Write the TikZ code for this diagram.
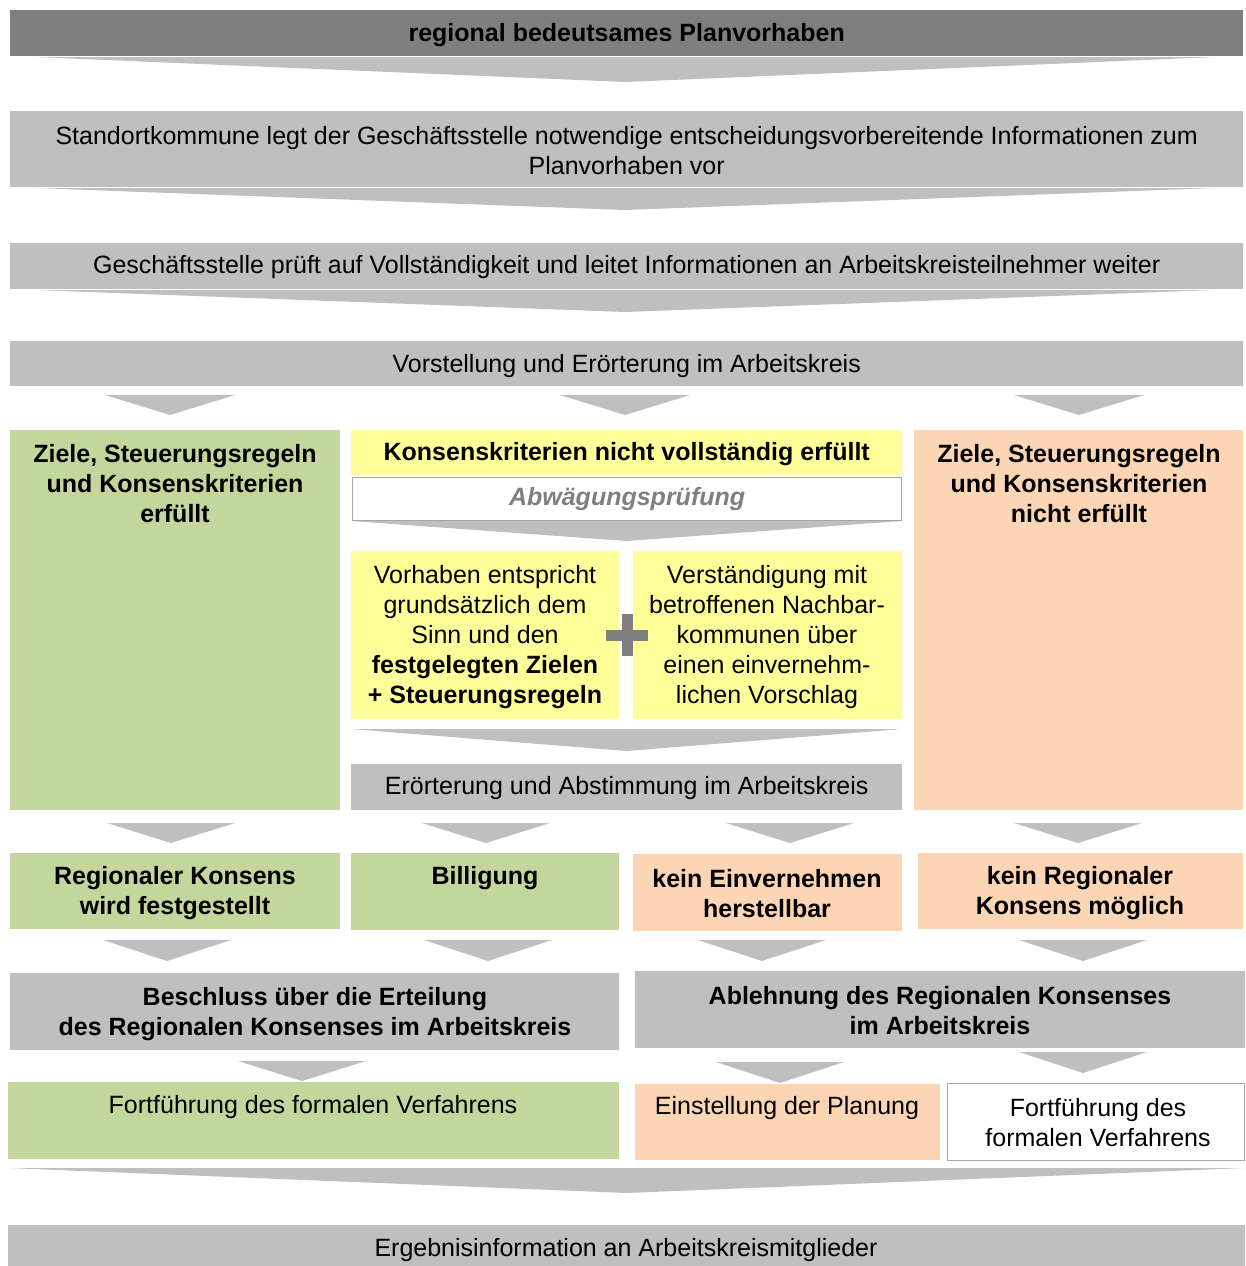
\documentclass[tikz,border=0pt]{standalone}
\usepackage{fontspec}
\setmainfont{Liberation Sans}
\definecolor{dgray}{HTML}{7F7F7F}
\definecolor{lgray}{HTML}{BFBFBF}
\definecolor{kgreen}{HTML}{C3D69B}
\definecolor{kyellow}{HTML}{FFFF99}
\definecolor{korange}{HTML}{FCD5B5}
\definecolor{bgray}{HTML}{A6A6A6}
\tikzset{
  box/.style={draw=none, inner sep=0pt, anchor=north west},
  txt/.style={inner sep=0pt, align=center, font=\fontsize{25}{30}\selectfont},
  btxt/.style={inner sep=0pt, align=center, font=\fontsize{25}{30}\selectfont\bfseries},
  chev/.style={fill=lgray, draw=none},
}
% box: name, x1, y1, x2, y2, fill
\newcommand{\mybox}[6]{\node[box, fill=#6, minimum width={(#4-#2)*1pt}, minimum height={(#5-#3)*1pt}] (#1) at (#2,#3) {};}
% chevron: cx, ytop, halfwidth, ybottom
\newcommand{\mychev}[4]{\fill[chev] ({#1-#3},#2) -- ({#1+#3},#2) -- (#1,#4) -- cycle;}
\begin{document}
\begin{tikzpicture}[x=1pt,y=-1pt]
\useasboundingbox (0,0) rectangle (1245,1266);
% top row
\mybox{top}{10}{10}{1243}{56}{dgray}
\node[btxt] at ([yshift=-2pt]top.center) {regional bedeutsames Planvorhaben};
\mychev{625}{57}{590}{82}
\mybox{std}{10}{111}{1243}{187}{lgray}
\node[txt] at ([yshift=-1pt]std.center) {Standortkommune legt der Geschäftsstelle notwendige entscheidungsvorbereitende Informationen zum\\Planvorhaben vor};
\mychev{625}{188}{590}{210}
\mybox{pr}{10}{243}{1243}{289}{lgray}
\node[txt] at ([yshift=-1pt]pr.center) {Geschäftsstelle prüft auf Vollständigkeit und leitet Informationen an Arbeitskreisteilnehmer weiter};
\mychev{625}{290}{590}{312}
\mybox{vor}{10}{341}{1243}{386}{lgray}
\node[txt] at ([yshift=-2pt]vor.center) {Vorstellung und Erörterung im Arbeitskreis};
\mychev{170}{395}{65}{415}
\mychev{625}{395}{65}{415}
\mychev{1079}{395}{65}{415}
% middle section
\mybox{zfe}{10}{430}{340}{810}{kgreen}
\node[btxt] at (175,484) {Ziele, Steuerungsregeln\\und Konsenskriterien\\erfüllt};
\mybox{znf}{914}{430}{1243}{810}{korange}
\node[btxt] at (1079,484) {Ziele, Steuerungsregeln\\und Konsenskriterien\\nicht erfüllt};
\mybox{knv}{351}{430}{902}{475}{kyellow}
\node[btxt] at ([yshift=-1pt]knv.center) {Konsenskriterien nicht vollständig erfüllt};
\node[box, fill=white, draw=bgray, line width=1.2pt, minimum width=549pt, minimum height=43pt] (abw) at (352,477) {};
\node[btxt, font=\fontsize{25}{30}\selectfont\bfseries\itshape, text=dgray] at (abw.center) {Abwägungsprüfung};
\mychev{626.5}{521}{275.5}{541}
\mybox{vl}{351}{551}{619}{719}{kyellow}
\node[txt] at (485,637) {Vorhaben entspricht\\grundsätzlich dem\\Sinn und den\\\textbf{festgelegten Zielen}\\\textbf{+ Steuerungsregeln}};
\mybox{vr}{633}{551}{902}{719}{kyellow}
\node[txt] at (767,637) {Verständigung mit\\betroffenen Nachbar-\\kommunen über\\einen einvernehm-\\lichen Vorschlag};
\fill[dgray] (606,630) rectangle (648,641);
\fill[dgray] (621.5,614) rectangle (632.5,656);
\mychev{626.5}{729}{275.5}{751}
\mybox{eua}{351}{764}{902}{810}{lgray}
\node[txt] at ([yshift=-1pt]eua.center) {Erörterung und Abstimmung im Arbeitskreis};
\mychev{171}{823}{64}{843}
\mychev{486}{823}{64}{843}
\mychev{790}{823}{64}{843}
\mychev{1078}{823}{64}{843}
% result row
\mybox{rk}{10}{853}{340}{929}{kgreen}
\node[btxt] at (175,893) {Regionaler Konsens\\wird festgestellt};
\mybox{bil}{351}{853}{619}{930}{kgreen}
\node[btxt] at (485,878) {Billigung};
\mybox{ke}{633}{854}{902}{931}{korange}
\node[btxt] at (767,894) {kein Einvernehmen\\herstellbar};
\mybox{kr}{918}{853}{1243}{929}{korange}
\node[btxt] at (1080,893) {kein Regionaler\\Konsens möglich};
\mychev{167}{940}{64}{961}
\mychev{488}{940}{64}{961}
\mychev{762}{940}{64}{961}
\mychev{1083}{940}{64}{961}
\mybox{bes}{10}{973}{619}{1050}{lgray}
\node[btxt] at (315,1014) {Beschluss über die Erteilung\\des Regionalen Konsenses im Arbeitskreis};
\mybox{abl}{635}{971}{1245}{1048}{lgray}
\node[btxt] at (940,1011) {Ablehnung des Regionalen Konsenses\\im Arbeitskreis};
\mychev{302}{1061}{64}{1081}
\mychev{780}{1062}{64}{1083}
\mychev{1083}{1052}{64}{1073}
\mybox{f1}{8}{1082}{619}{1159}{kgreen}
\node[txt] at (313,1107) {Fortführung des formalen Verfahrens};
\mybox{ein}{635}{1084}{940}{1160}{korange}
\node[txt] at (787,1108) {Einstellung der Planung};
\node[box, fill=white, draw=bgray, line width=1.2pt, minimum width=297pt, minimum height=77pt] (f2) at (946.5,1082.5) {};
\node[txt] at (1098,1123) {Fortführung des\\formalen Verfahrens};
\mychev{626.5}{1168}{618.5}{1193}
\mybox{erg}{8}{1225}{1245}{1266}{lgray}
\node[txt] at (626,1250) {Ergebnisinformation an Arbeitskreismitglieder};
\end{tikzpicture}
\end{document}
